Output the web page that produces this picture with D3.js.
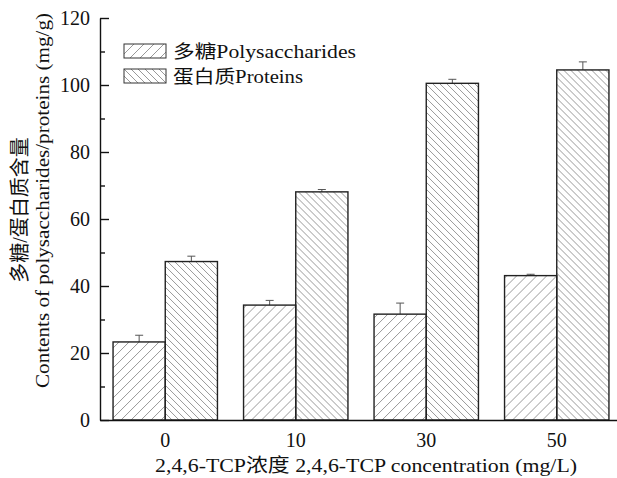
<!DOCTYPE html>
<html>
<head>
<meta charset="utf-8">
<script src="https://cdn.jsdelivr.net/npm/d3@7"></script>
<style>
  body { margin: 0; background: #fff; }
</style>
</head>
<body>
<div id="wrapper"></div>
<script>
// chart data
const categories = ["0", "10", "30", "50"];
const seriesNames = ["多糖Polysaccharides", "蛋白质Proteins"];
const polyMean = [23.3, 34.3, 31.6, 43.1];
const polyErr = [2.0, 1.4, 3.3, 0.4];
const protMean = [47.3, 68.1, 100.5, 104.5];
const protErr = [1.6, 0.7, 1.2, 2.4];
const yTicks = [0, 20, 40, 60, 80, 100, 120];
const yMinorTicks = [10, 30, 50, 70, 90, 110];

const FONT = "'Liberation Serif', 'Noto Sans CJK SC', serif";

function buildChart() {
    let dimension = {
        width: 617,
        height: 478,
        margin: { top: 18, right: -5, bottom: 58, left: 100 },
    }
    dimension.boundedWidth = dimension.width - dimension.margin.left - dimension.margin.right;
    dimension.boundedHeight = dimension.height - dimension.margin.top - dimension.margin.bottom;

    const wrapper = d3.select("#wrapper")
        .append("svg")
        .attr("width", dimension.width)
        .attr("height", dimension.height)
        .style("font-family", FONT)

    // hatch patterns
    const defs = wrapper.append("defs");
    const hatch = (id, p, forward) => {
        const pat = defs.append("pattern")
            .attr("id", id)
            .attr("patternUnits", "userSpaceOnUse")
            .attr("width", p)
            .attr("height", p);
        const d = forward
            ? `M0,${p} L${p},0 M${-p / 2},${p / 2} L${p / 2},${-p / 2} M${p / 2},${p * 1.5} L${p * 1.5},${p / 2}`
            : `M0,0 L${p},${p} M${-p / 2},${p / 2} L${p / 2},${p * 1.5} M${p / 2},${-p / 2} L${p * 1.5},${p / 2}`;
        pat.append("path")
            .attr("d", d)
            .attr("stroke", "#999")
            .attr("stroke-width", 1)
            .attr("fill", "none");
    }
    hatch("hatchPoly", 10, true);
    hatch("hatchProt", 7, false);
    const fills = ["url(#hatchPoly)", "url(#hatchProt)"];

    const bounds = wrapper.append("g")
        .attr("transform", `translate(${dimension.margin.left}, ${dimension.margin.top})`)

    // scales
    const yScaler = d3.scaleLinear()
        .domain([0, 120])
        .range([dimension.boundedHeight, 0])

    const xScaler = d3.scaleBand()
        .domain(categories)
        .range([0, 522])
        .paddingInner(0.2)
        .paddingOuter(0.1)

    const subScaler = d3.scaleBand()
        .domain([0, 1])
        .range([0, xScaler.bandwidth()])

    const rows = categories.map((c, i) => ({
        cat: c,
        values: [
            { s: 0, mean: polyMean[i], err: polyErr[i] },
            { s: 1, mean: protMean[i], err: protErr[i] },
        ]
    }));

    // bars
    const groups = bounds.selectAll(".grp")
        .data(rows)
        .join("g")
        .attr("transform", d => `translate(${xScaler(d.cat)},0)`)

    groups.selectAll("line.err")
        .data(d => d.values)
        .join("line")
        .attr("class", "err")
        .attr("x1", d => subScaler(d.s) + subScaler.bandwidth() / 2)
        .attr("x2", d => subScaler(d.s) + subScaler.bandwidth() / 2)
        .attr("y1", d => yScaler(d.mean))
        .attr("y2", d => yScaler(d.mean + d.err))
        .attr("stroke", "#555")
        .attr("stroke-width", 1)

    groups.selectAll("line.cap")
        .data(d => d.values)
        .join("line")
        .attr("class", "cap")
        .attr("x1", d => subScaler(d.s) + subScaler.bandwidth() / 2 - 4)
        .attr("x2", d => subScaler(d.s) + subScaler.bandwidth() / 2 + 4)
        .attr("y1", d => yScaler(d.mean + d.err))
        .attr("y2", d => yScaler(d.mean + d.err))
        .attr("stroke", "#555")
        .attr("stroke-width", 1)

    groups.selectAll("rect")
        .data(d => d.values)
        .join("rect")
        .attr("x", d => subScaler(d.s))
        .attr("width", subScaler.bandwidth())
        .attr("y", d => yScaler(d.mean))
        .attr("height", d => yScaler(0) - yScaler(d.mean))
        .attr("fill", d => fills[d.s])
        .attr("stroke", "#222")
        .attr("stroke-width", 1.4)

    // y axis with inward ticks
    const yAxis = bounds.append("g")
        .call(d3.axisLeft(yScaler)
            .tickValues(yTicks)
            .tickSizeInner(-9)
            .tickSizeOuter(0)
            .tickPadding(10))
    bounds.append("g")
        .call(d3.axisLeft(yScaler)
            .tickValues(yMinorTicks)
            .tickSizeInner(-5)
            .tickSizeOuter(0)
            .tickFormat(""))
        .select(".domain").remove()

    // x axis: plain line, no tick marks
    const xAxis = bounds.append("g")
        .attr("transform", `translate(0, ${dimension.boundedHeight})`)
        .call(d3.axisBottom(xScaler).tickSize(0).tickPadding(13))

    bounds.selectAll(".tick text")
        .attr("font-family", null)
        .style("font-family", FONT)
        .style("font-size", "20px")
        .attr("fill", "#111")
    bounds.selectAll("g").attr("font-family", null)
    bounds.selectAll(".domain").attr("stroke", "#111").attr("stroke-width", 1.4)
    bounds.selectAll(".tick line").attr("stroke", "#111").attr("stroke-width", 1.4)

    // axis titles
    wrapper.append("text")
        .attr("x", 155)
        .attr("y", 472)
        .attr("textLength", 422)
        .attr("lengthAdjust", "spacingAndGlyphs")
        .style("font-family", FONT)
        .style("font-size", "19px")
        .attr("fill", "#111")
        .text("2,4,6-TCP浓度 2,4,6-TCP concentration (mg/L)")

    wrapper.append("text")
        .attr("transform", "translate(27, 210) rotate(-90)")
        .attr("text-anchor", "middle")
        .style("font-family", FONT)
        .style("font-size", "20px")
        .attr("fill", "#111")
        .text("多糖/蛋白质含量")

    wrapper.append("text")
        .attr("transform", "translate(49, 388) rotate(-90)")
        .attr("textLength", 375)
        .attr("lengthAdjust", "spacingAndGlyphs")
        .style("font-family", FONT)
        .style("font-size", "19px")
        .attr("fill", "#111")
        .text("Contents of polysaccharides/proteins (mg/g)")

    // legend
    const legendWidths = [183, 130];
    const legend = wrapper.append("g")
        .attr("transform", "translate(124, 44)")
    const items = legend.selectAll("g")
        .data(seriesNames)
        .join("g")
        .attr("transform", (d, i) => `translate(0, ${i * 25})`)
    items.append("rect")
        .attr("width", 42)
        .attr("height", 14)
        .attr("fill", (d, i) => fills[i])
        .attr("stroke", "#333")
        .attr("stroke-width", 1)
    items.append("text")
        .attr("x", 49)
        .attr("y", 14)
        .attr("textLength", (d, i) => legendWidths[i])
        .attr("lengthAdjust", "spacingAndGlyphs")
        .style("font-family", FONT)
        .style("font-size", "18px")
        .attr("fill", "#111")
        .text(d => d)
}

buildChart()
</script>
</body>
</html>
